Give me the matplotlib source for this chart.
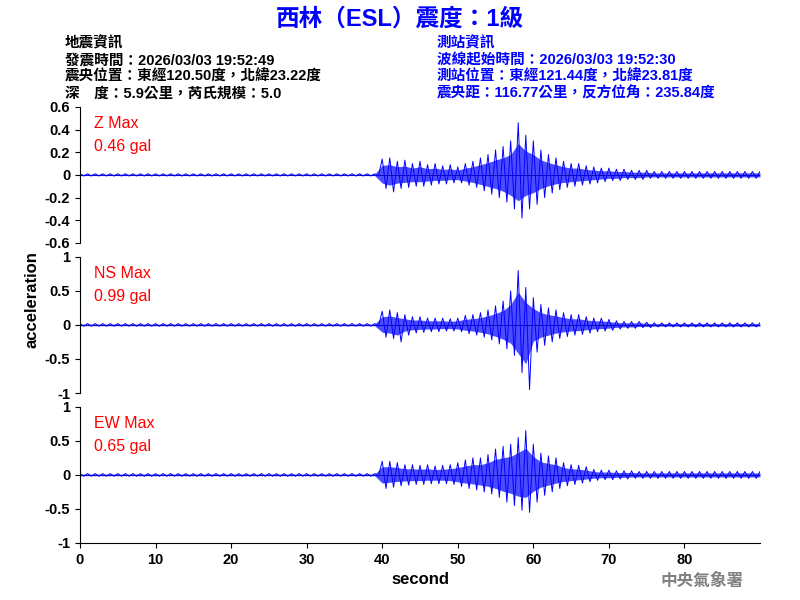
import numpy as np
import matplotlib.pyplot as plt

plt.rcParams['font.family'] = ['Liberation Sans', 'Noto Sans CJK TC']

# per-second envelope (upper / lower peaks), t = 0..90 s
seconds = list(range(91))
quiet = [0.01] * 40
z_up = quiet + [0.14, 0.15, 0.12, 0.13, 0.10, 0.12, 0.09, 0.10, 0.08, 0.09,
                0.07, 0.10, 0.12, 0.15, 0.18, 0.22, 0.25, 0.30, 0.46, 0.35,
                0.30, 0.22, 0.18, 0.15, 0.12, 0.10, 0.10, 0.08, 0.07, 0.06,
                0.06, 0.05, 0.05, 0.04, 0.04, 0.04] + [0.03] * 15
z_lo = [-0.01] * 40 + [-0.12, -0.15, -0.12, -0.11, -0.10, -0.10, -0.09, -0.08, -0.08, -0.07,
                       -0.07, -0.09, -0.11, -0.14, -0.17, -0.20, -0.24, -0.30, -0.38, -0.30,
                       -0.26, -0.20, -0.16, -0.13, -0.11, -0.10, -0.09, -0.08, -0.07, -0.06,
                       -0.05, -0.05, -0.04, -0.04, -0.04, -0.03] + [-0.03] * 15
ns_up = [0.02] * 40 + [0.20, 0.22, 0.18, 0.15, 0.12, 0.12, 0.10, 0.10, 0.10, 0.09,
                       0.10, 0.14, 0.15, 0.18, 0.22, 0.28, 0.35, 0.50, 0.80, 0.55,
                       0.40, 0.30, 0.25, 0.22, 0.18, 0.15, 0.15, 0.12, 0.10, 0.10,
                       0.08, 0.06, 0.05, 0.05, 0.05, 0.04] + [0.03] * 15
ns_lo = [-0.02] * 40 + [-0.18, -0.20, -0.25, -0.15, -0.12, -0.11, -0.10, -0.10, -0.09, -0.09,
                        -0.10, -0.13, -0.15, -0.18, -0.22, -0.28, -0.35, -0.45, -0.70, -0.95,
                        -0.40, -0.30, -0.25, -0.20, -0.17, -0.15, -0.14, -0.12, -0.10, -0.09,
                        -0.08, -0.06, -0.05, -0.05, -0.04, -0.04] + [-0.03] * 15
ew_up = [0.02] * 40 + [0.20, 0.20, 0.18, 0.15, 0.15, 0.14, 0.15, 0.13, 0.14, 0.15,
                       0.18, 0.22, 0.25, 0.25, 0.30, 0.38, 0.42, 0.45, 0.55, 0.65,
                       0.45, 0.32, 0.28, 0.25, 0.18, 0.15, 0.14, 0.12, 0.08, 0.07,
                       0.07, 0.06, 0.06, 0.06, 0.05, 0.05] + [0.05] * 15
ew_lo = [-0.02] * 40 + [-0.20, -0.18, -0.16, -0.15, -0.14, -0.14, -0.13, -0.13, -0.13, -0.14,
                        -0.17, -0.20, -0.22, -0.25, -0.28, -0.33, -0.40, -0.45, -0.52, -0.55,
                        -0.40, -0.30, -0.25, -0.20, -0.16, -0.14, -0.12, -0.10, -0.08, -0.07,
                        -0.07, -0.06, -0.06, -0.05, -0.05, -0.05] + [-0.05] * 15

channels = ['Z', 'NS', 'EW']
max_labels = ['0.46 gal', '0.99 gal', '0.65 gal']
ylims = [(-0.6, 0.6), (-1, 1), (-1, 1)]
yticks = [np.arange(-0.6, 0.61, 0.2), [-1, -0.5, 0, 0.5, 1], [-1, -0.5, 0, 0.5, 1]]
ytlabels = [['-0.6', '-0.4', '-0.2', '0', '0.2', '0.4', '0.6'],
            ['-1', '-0.5', '0', '0.5', '1'], ['-1', '-0.5', '0', '0.5', '1']]
ups = [z_up, ns_up, ew_up]
los = [z_lo, ns_lo, ew_lo]

fig = plt.figure(figsize=(8, 6), dpi=100)
boxes = [(0.1, 0.595, 0.85, 0.227), (0.1, 0.345, 0.85, 0.227), (0.1, 0.095, 0.85, 0.227)]
for i in range(3):
    ax = fig.add_axes(boxes[i])
    t = np.array(seconds, dtype=float)
    xs = np.ravel(np.column_stack([t, t + 0.5]))
    ys = np.ravel(np.column_stack([ups[i], los[i]]))
    ax.fill_between(t, np.array(los[i]) * 0.6, np.array(ups[i]) * 0.6,
                    color='blue', lw=0, alpha=0.7)
    ax.plot(xs[:-1], ys[:-1], color='blue', lw=0.7)
    ax.axhline(0, color='black', lw=0.6, zorder=0)
    ax.set_xlim(0, 90)
    ax.set_ylim(*ylims[i])
    ax.set_yticks(yticks[i])
    ax.set_yticklabels(ytlabels[i], fontsize=10.5, fontweight='bold')
    for s in ['top', 'right']:
        ax.spines[s].set_visible(False)
    if i < 2:
        ax.spines['bottom'].set_visible(False)
        ax.set_xticks([])
    else:
        ax.set_xticks(range(0, 90, 10))
        ax.tick_params(axis='x', labelsize=10.5)
        for lb in ax.get_xticklabels():
            lb.set_fontweight('bold')
        ax.set_xlabel('second', fontsize=12, fontweight='bold')
    ax.text(0.02, 0.93, channels[i] + ' Max', transform=ax.transAxes, color='red',
            fontsize=11.5, va='top')
    ax.text(0.02, 0.76, max_labels[i], transform=ax.transAxes, color='red',
            fontsize=11.5, va='top')

fig.text(0.04, 0.5, 'acceleration', rotation=90, ha='center', va='center',
         fontsize=12, fontweight='bold')
fig.text(0.5, 0.968, '西林（ESL）震度：1級', ha='center', va='center', color='blue',
         fontsize=17, fontweight='bold')
left_info = ['地震資訊', '發震時間：2026/03/03 19:52:49',
             '震央位置：東經120.50度，北緯23.22度', '深　度：5.9公里，芮氏規模：5.0']
right_info = ['測站資訊', '波線起始時間：2026/03/03 19:52:30',
              '測站位置：東經121.44度，北緯23.81度', '震央距：116.77公里，反方位角：235.84度']
for k in range(4):
    y = 0.927 - k * 0.0275
    fig.text(0.081, y, left_info[k], fontsize=10.5, va='center', fontweight='bold')
    fig.text(0.546, y, right_info[k], fontsize=10.5, va='center', color='blue',
             fontweight='bold')
fig.text(0.93, 0.032, '中央氣象署', ha='right', va='center', color='gray',
         fontsize=12, fontweight='bold')

fig.savefig('out.png', dpi=100)
